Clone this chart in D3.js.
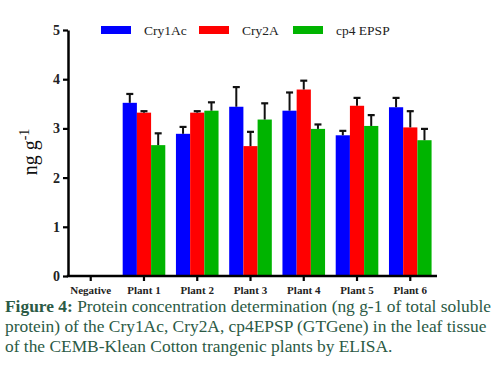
<!DOCTYPE html>
<html>
<head>
<meta charset="utf-8">
<script src="https://cdn.jsdelivr.net/npm/d3@7"></script>
<style>
  body { margin: 0; background: #fff; }
  svg { display: block; }
</style>
</head>
<body>
<div id="chart"></div>
<script>
// dados
const categories = ["Negative", "Plant 1", "Plant 2", "Plant 3", "Plant 4", "Plant 5", "Plant 6"];
const seriesNames = ["Cry1Ac", "Cry2A", "cp4 EPSP"];
const cry1Ac = [0, 3.52, 2.89, 3.44, 3.36, 2.86, 3.43];
const cry2A = [0, 3.32, 3.32, 2.64, 3.79, 3.46, 3.02];
const cp4Epsp = [0, 2.66, 3.36, 3.18, 2.99, 3.05, 2.76];
const cry1AcErr = [0, 0.18, 0.14, 0.40, 0.37, 0.09, 0.19];
const cry2AErr = [0, 0.03, 0.03, 0.29, 0.18, 0.16, 0.33];
const cp4EpspErr = [0, 0.24, 0.17, 0.33, 0.09, 0.22, 0.23];
const yTicks = [0, 1, 2, 3, 4, 5];
const colors = ["#0000ff", "#ff0000", "#00b400"];

const values = [cry1Ac, cry2A, cp4Epsp];
const errors = [cry1AcErr, cry2AErr, cp4EpspErr];

const W = 493, H = 377;
const svg = d3.select("#chart").append("svg")
    .attr("width", W).attr("height", H);

const serif = "'Liberation Serif', 'Times New Roman', serif";

// escalas
const x0 = d3.scaleBand().domain(categories)
    .range([64.1, 436.9]).paddingInner(0.2).paddingOuter(0.1);
const x1 = d3.scaleBand().domain(seriesNames)
    .range([0, x0.bandwidth()]);
const y = d3.scaleLinear().domain([0, 5]).range([276, 30]);

// barras
const groups = svg.selectAll(".grp")
    .data(categories)
    .enter().append("g")
    .attr("transform", d => `translate(${x0(d)},0)`);

groups.each(function(cat, ci) {
    const g = d3.select(this);
    seriesNames.forEach((s, si) => {
        const v = values[si][ci];
        if (v <= 0) return;
        g.append("rect")
            .attr("x", x1(s))
            .attr("y", y(v))
            .attr("width", x1.bandwidth())
            .attr("height", y(0) - y(v))
            .attr("fill", colors[si]);
        const cx = x1(s) + x1.bandwidth() / 2;
        const top = y(v + errors[si][ci]);
        g.append("line")
            .attr("x1", cx).attr("x2", cx)
            .attr("y1", y(v)).attr("y2", top)
            .attr("stroke", "#111").attr("stroke-width", 2);
        g.append("line")
            .attr("x1", cx - 3.5).attr("x2", cx + 3.5)
            .attr("y1", top).attr("y2", top)
            .attr("stroke", "#111").attr("stroke-width", 2.2);
    });
});

// eixos
const yAxis = svg.append("g")
    .attr("transform", "translate(68,0)")
    .call(d3.axisLeft(y).tickValues(yTicks).tickFormat(d3.format("d"))
        .tickSize(5).tickSizeOuter(0).tickPadding(3));
yAxis.attr("font-family", serif);
yAxis.select(".domain").attr("stroke-width", 2.5).attr("stroke", "#000");
yAxis.selectAll(".tick line").attr("stroke-width", 2.2).attr("stroke", "#000");
yAxis.selectAll("text")
    .style("font-family", serif).style("font-size", "14px")
    .style("font-weight", "bold").attr("fill", "#222");

const xAxis = svg.append("g")
    .attr("transform", "translate(0,276)")
    .call(d3.axisBottom(x0).tickSize(5).tickSizeOuter(0).tickPadding(5));
xAxis.attr("font-family", serif);
xAxis.select(".domain").remove();
xAxis.append("line")
    .attr("x1", 66.8).attr("x2", 437)
    .attr("stroke", "#000").attr("stroke-width", 2.5);
xAxis.selectAll(".tick line").attr("stroke-width", 2.2).attr("stroke", "#000");
xAxis.selectAll("text")
    .style("font-family", serif).style("font-size", "11px")
    .style("font-weight", "bold").attr("fill", "#222");

// rótulo do eixo y
const yLab = svg.append("text")
    .attr("transform", "translate(37,152) rotate(-90)")
    .attr("text-anchor", "middle")
    .style("font-family", serif).style("font-size", "20px")
    .attr("fill", "#111");
yLab.append("tspan").text("ng g");
yLab.append("tspan").attr("dy", -8).style("font-size", "14px").text("-1");

// legenda
const legendX = [101, 199, 293];
const legend = svg.selectAll(".legend")
    .data(seriesNames)
    .enter().append("g")
    .attr("transform", (d, i) => `translate(${legendX[i]},26)`);
legend.append("rect")
    .attr("width", 30).attr("height", 8)
    .attr("fill", (d, i) => colors[i]);
legend.append("text")
    .attr("x", 43).attr("y", 8.5)
    .style("font-family", serif).style("font-size", "13.5px")
    .attr("fill", "#222")
    .text(d => d);

// legenda da figura
const capColor = "#2b5a45";
const capLines = [
    [["Figure 4:", true], [" Protein concentration determination (ng g-1 of total soluble", false]],
    [["protein) of the Cry1Ac, Cry2A, cp4EPSP (GTGene) in the leaf tissue", false]],
    [["of the CEMB-Klean Cotton trangenic plants by ELISA.", false]]
];
capLines.forEach((ln, i) => {
    const t = svg.append("text")
        .attr("x", 5).attr("y", 312 + i * 20)
        .style("font-family", serif).style("font-size", "17.4px")
        .attr("fill", capColor);
    ln.forEach(([s, b]) => {
        t.append("tspan").style("font-weight", b ? "bold" : "normal").text(s);
    });
});
</script>
</body>
</html>
